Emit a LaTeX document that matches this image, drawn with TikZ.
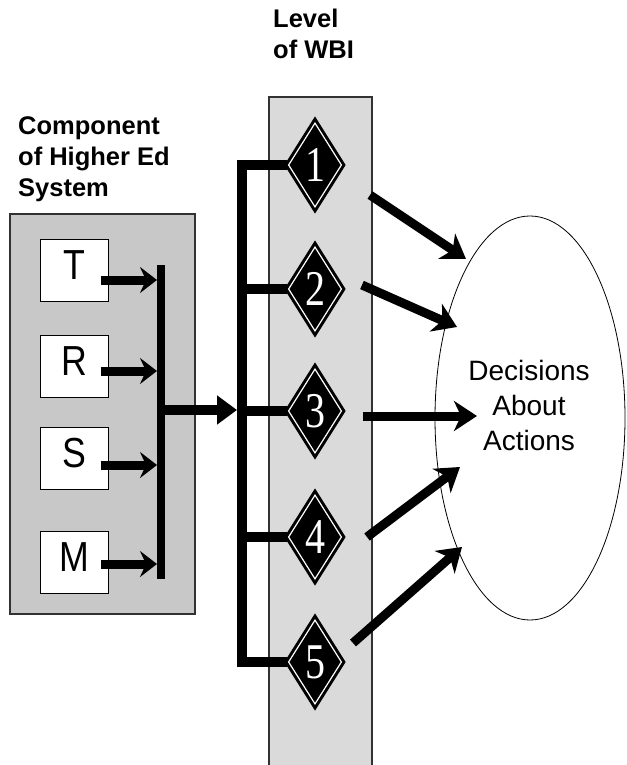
\documentclass[tikz,border=0pt]{standalone}
\usepackage{fontspec}
\setmainfont{Liberation Sans}
\newfontfamily\numfont[FakeStretch=0.8]{Liberation Serif}
\newfontfamily\boxfont[FakeStretch=0.85]{Liberation Sans}
\usetikzlibrary{shapes.geometric,arrows.meta}
\definecolor{panelgray}{RGB}{200,200,200}
\definecolor{stripgray}{RGB}{218,218,218}
\definecolor{edgegray}{RGB}{50,50,50}
\begin{document}
\begin{tikzpicture}[x=1pt,y=-1pt,
  heading/.style={font=\bfseries\fontsize{25.5}{31}\selectfont, align=left,
    inner sep=0pt, anchor=north west},
  compbox/.style={draw=black, line width=1pt, fill=white,
    minimum width=68pt, minimum height=62pt, inner sep=0pt,
    font=\boxfont\fontsize{42}{42}\selectfont, text height=30pt, text depth=12pt},
  level/.style={diamond, aspect=0.6, fill=black, draw=black, double=white,
    line width=3pt, double distance=1.2pt, minimum width=54pt,
    minimum height=85pt, inner sep=0pt, text=white,
    font=\numfont\fontsize{50}{50}\selectfont},
  feed/.style={line width=9pt, shorten <=-8pt,
    -{Stealth[length=17pt,width=26pt,inset=6pt]}},
  busline/.style={line width=#1},
  outarrow/.style={line width=9pt, -{Stealth[length=23pt,width=30pt,inset=7pt]}}]
\useasboundingbox (0,0) rectangle (626,765);

% panels
\draw[fill=panelgray, draw=edgegray, line width=1.2pt] (10,214) rectangle (195,614);
\fill[stripgray] (269,97) rectangle (372,766);
\draw[edgegray, line width=1.2pt] (269,766) -- (269,97) -- (372,97) -- (372,766);

% headings
\node[heading] (comp) at (18,116.5) {Component\\of Higher Ed\\System};
\node[heading] (wbi) at (273,8.5) {Level\\of WBI};

% components
\node[compbox] (T) at (74,270.5) {T};
\node[compbox] (R) at (74,366) {R};
\node[compbox] (S) at (74,458) {S};
\node[compbox] (M) at (74,562.5) {M};

% collecting bus
\coordinate (busTop) at (161,265);
\coordinate (busBot) at (161,579);
\draw[busline=8pt] (busTop) -- (busBot);
\coordinate (jT) at (157,280);
\coordinate (jR) at (157,371);
\coordinate (jS) at (157,465);
\coordinate (jM) at (157,564);
\draw[feed] (T.east |- jT) -- (jT);
\draw[feed] (R.east |- jR) -- (jR);
\draw[feed] (S.east |- jS) -- (jS);
\draw[feed] (M.east |- jM) -- (jM);

% levels
\node[level] (L1) at (315,165) {1};
\node[level] (L2) at (315,289) {2};
\node[level] (L3) at (315,411) {3};
\node[level] (L4) at (315,537) {4};
\node[level] (L5) at (315,662) {5};

% distributing bus
\coordinate (busOut) at (165,410);
\coordinate (levelIn) at (237,410);
\draw[line width=10pt, -{Triangle[length=20pt,width=28pt]}] (busOut) -- (levelIn);
\coordinate (c1) at (242,165);
\coordinate (c2) at (242,289);
\coordinate (c3) at (242,411);
\coordinate (c4) at (242,537);
\coordinate (c5) at (242,662);
\draw[busline=10pt] (L1.west) -- (c1) -- (c5) -- (L5.west);
\draw[busline=10pt] (c2) -- (L2.west);
\draw[busline=10pt] (c3) -- (L3.west);
\draw[busline=10pt] (c4) -- (L4.west);

% decisions
\node[ellipse, draw, line width=0.8pt, minimum width=190pt, minimum height=404pt,
  inner sep=0pt] (dec) at (530,418) {};
\node[font=\fontsize{28}{35}\selectfont, align=center, inner sep=0pt]
  (dectext) at (529,405) {Decisions\\About\\Actions};

% arrows into decisions
\coordinate (s1) at (370,195); \coordinate (t1) at (466,259);
\coordinate (s2) at (362,285); \coordinate (t2) at (457,327);
\coordinate (s3) at (363,416); \coordinate (t3) at (477,416);
\coordinate (s4) at (367,537); \coordinate (t4) at (460,467);
\coordinate (s5) at (353,643); \coordinate (t5) at (462,547);
\draw[outarrow] (s1) -- (t1);
\draw[outarrow] (s2) -- (t2);
\draw[outarrow] (s3) -- (t3);
\draw[outarrow] (s4) -- (t4);
\draw[outarrow] (s5) -- (t5);
\end{tikzpicture}
\end{document}
